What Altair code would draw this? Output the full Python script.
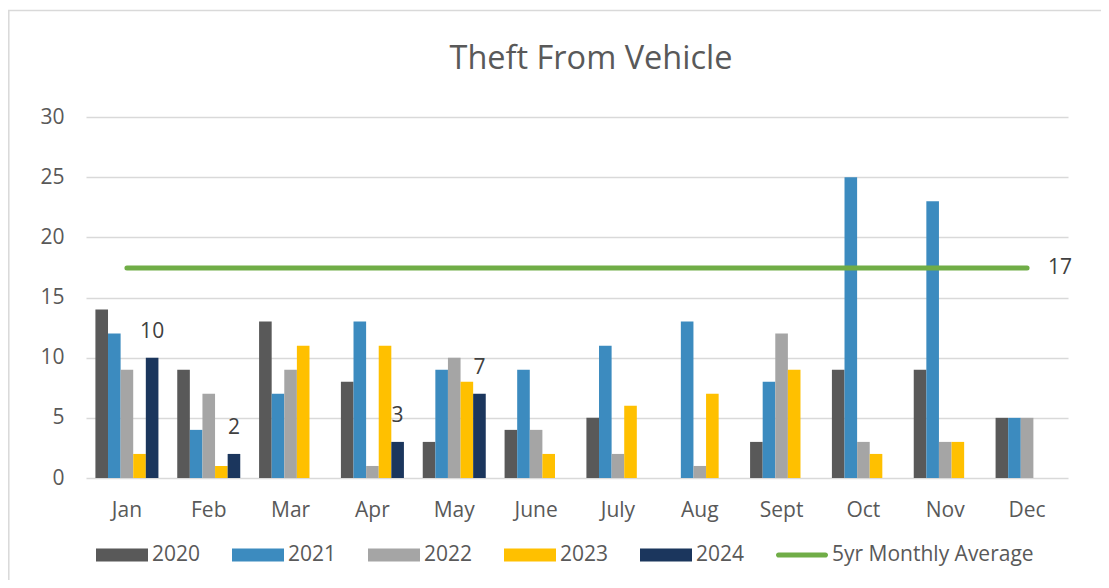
import altair as alt
import pandas as pd

months = ["Jan", "Feb", "Mar", "Apr", "May", "June", "July", "Aug", "Sept", "Oct", "Nov", "Dec"]
years = ["2020", "2021", "2022", "2023", "2024"]
v2020 = [14, 9, 13, 8, 3, 4, 5, 0, 3, 9, 9, 5]
v2021 = [12, 4, 7, 13, 9, 9, 11, 13, 8, 25, 23, 5]
v2022 = [9, 7, 9, 1, 10, 4, 2, 1, 12, 3, 3, 5]
v2023 = [2, 1, 11, 11, 8, 2, 6, 7, 9, 2, 3, 0]
v2024 = [10, 2, None, 3, 7, None, None, None, None, None, None, None]
avg_name = "5yr Monthly Average"
avg_value = 17.45
avg_label = "17"

colors = ["#595959", "#3C8BBF", "#A5A5A5", "#FFC000", "#1B365D", "#70AD47"]
text_color = "#595959"
FONT = "Open Sans"
FS = 21

rows = []
for yr, vals in zip(years, [v2020, v2021, v2022, v2023, v2024]):
    for m, v in zip(months, vals):
        if v is not None:
            rows.append({"month": m, "year": yr, "value": v})
bars_df = pd.DataFrame(rows)
lab_df = bars_df[bars_df["year"] == "2024"]
avg_df = pd.DataFrame({"month": months, "value": [avg_value] * len(months), "year": avg_name})
avg_lab_df = pd.DataFrame({"month": [months[-1]], "value": [avg_value], "label": [avg_label]})

x_enc = alt.X(
    "month:N", sort=months,
    scale=alt.Scale(domain=months, paddingInner=0.23, paddingOuter=0.115),
    axis=alt.Axis(title=None, labelAngle=0, domain=False, ticks=False, grid=False,
                  labelPadding=21, labelFontSize=FS, labelColor=text_color, labelFont=FONT),
)
y_enc = alt.Y(
    "value:Q",
    scale=alt.Scale(domain=[0, 30], nice=False),
    axis=alt.Axis(title=None, values=[0, 5, 10, 15, 20, 25, 30], domain=False, ticks=False,
                  gridColor="#D9D9D9", gridWidth=1.4, labelPadding=22, labelFontSize=FS,
                  labelColor=text_color, labelFont=FONT),
)
xoff = alt.XOffset("year:N", scale=alt.Scale(domain=years, paddingInner=0, paddingOuter=0))

bar_shape = "M-1,-0.25H1V0.25H-1Z"
line_shape = "M-0.9,-0.1H0.9A0.1,0.1 0 0 1 0.9,0.1H-0.9A0.1,0.1 0 0 1 -0.9,-0.1Z"

color_enc = alt.Color(
    "year:N",
    scale=alt.Scale(domain=years + [avg_name], range=colors),
    legend=alt.Legend(
        title=None, orient="none", legendX=10, legendY=412, direction="horizontal",
        symbolType={"expr": f"datum.value === '{avg_name}' ? '{line_shape}' : '{bar_shape}'"},
        symbolSize=2704, symbolStrokeWidth=0, symbolOpacity=1,
        labelFontSize=FS, labelFont=FONT, labelColor=text_color, labelOffset=4,
        labelLimit=0, columnPadding=31, padding=0,
    ),
)

frame = alt.Chart(alt.Data(values=[{}])).mark_rect(
    fillOpacity=0, stroke="#D9D9D9", strokeWidth=1.5
).encode(x=alt.value(-77.2), x2=alt.value(1100), y=alt.value(-106.5), y2=alt.value(600))

bars = alt.Chart(bars_df).mark_bar().encode(x=x_enc, xOffset=xoff, y=y_enc, color=color_enc)

labels = alt.Chart(lab_df).mark_text(
    dy=-26, fontSize=FS, font=FONT, color="#404040", baseline="middle"
).encode(x=x_enc, xOffset=xoff, y=y_enc, text=alt.Text("value:Q"))

line = alt.Chart(avg_df).mark_line(strokeWidth=5, strokeCap="round").encode(
    x=x_enc, y=y_enc, color=color_enc
)

avg_text = alt.Chart(avg_lab_df).mark_text(
    dx=21, align="left", baseline="middle", fontSize=FS, font=FONT, color="#404040"
).encode(x=x_enc, y=y_enc, text="label:N")

chart = alt.layer(frame, bars, line, labels, avg_text).properties(
    width=982, height=361,
    title=alt.TitleParams("Theft From Vehicle", fontSize=32.5, font=FONT, color=text_color,
                          fontWeight="normal", anchor="middle", dx=14, offset=-92,
                          baseline="alphabetic", frame="group"),
    autosize=alt.AutoSizeParams(type="none"),
    padding={"left": 78, "top": 109, "right": 33, "bottom": 102},
).configure_view(stroke=None).resolve_scale(color="shared")

chart.save("out.html", embed_options={"renderer": "svg", "actions": False})
